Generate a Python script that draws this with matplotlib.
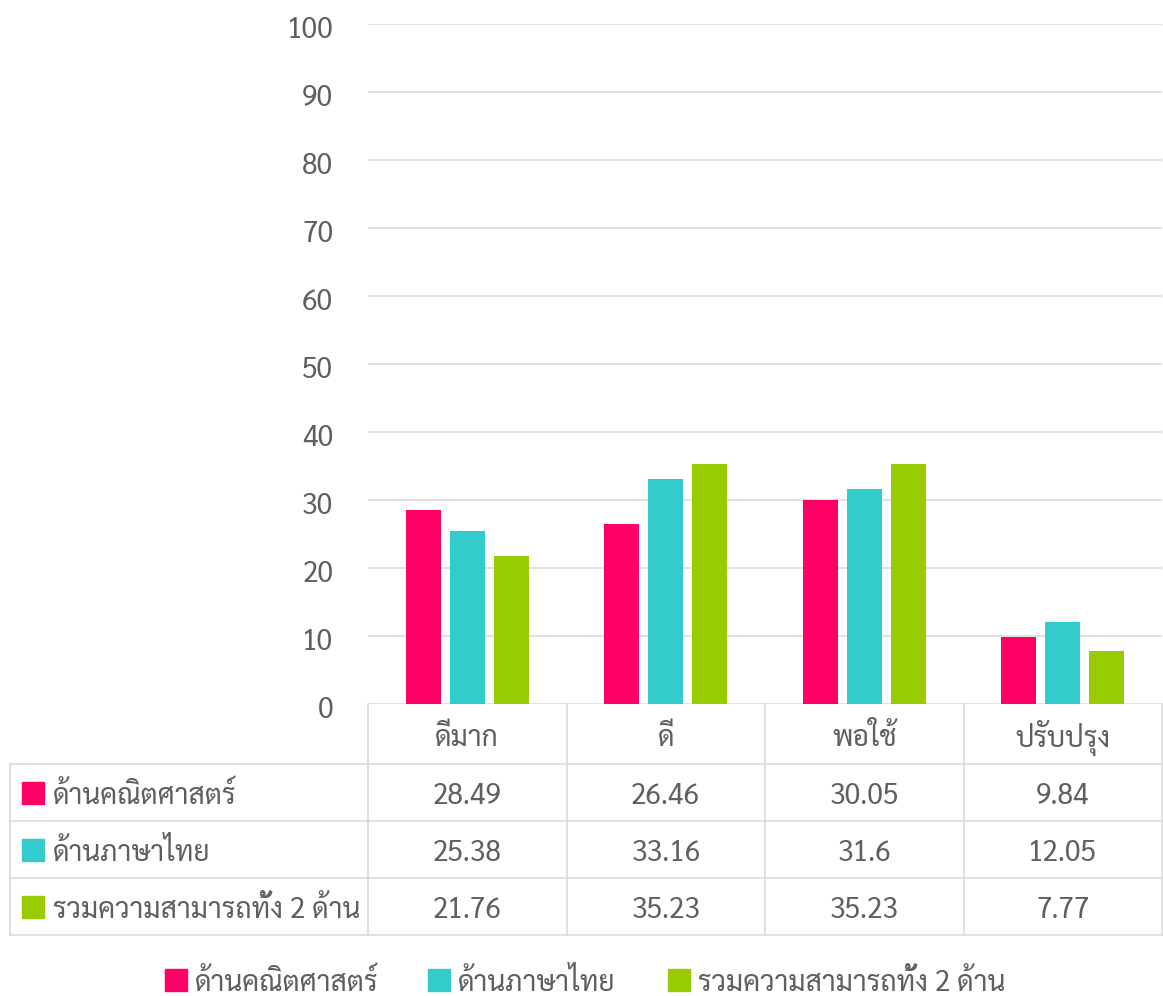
import matplotlib
matplotlib.use("Agg")
import matplotlib.pyplot as plt
from matplotlib.transforms import blended_transform_factory, ScaledTranslation
from matplotlib.lines import Line2D
from matplotlib.patches import Rectangle

categories = ["ดีมาก", "ดี", "พอใช้", "ปรับปรุง"]
series_names = ["ด้านคณิตศาสตร์", "ด้านภาษาไทย", "รวมความสามารถทั้ง 2 ด้าน"]
math_vals = [28.49, 26.46, 30.05, 9.84]
thai_vals = [25.38, 33.16, 31.6, 12.05]
both_vals = [21.76, 35.23, 35.23, 7.77]
series_vals = [math_vals, thai_vals, both_vals]
colors = ["#FF0066", "#33CCCC", "#99CC00"]

plt.rcParams["font.family"] = ["Sarabun", "DejaVu Sans"]
txt_color = "#5f5f5f"
grid_color = "#d9d9d9"
fs = 20.3
W, H = 1163, 996

fig = plt.figure(figsize=(W / 100, H / 100), dpi=100)
ax = fig.add_axes([368 / W, 1 - 704 / H, (1162 - 368) / W, (704 - 24) / H])

x = list(range(len(categories)))
bw = 0.176
step = 0.222
for i, vals in enumerate(series_vals):
    ax.bar([xi + (i - 1) * step for xi in x], vals, width=bw, color=colors[i], zorder=3)

ax.set_xlim(-0.5, len(categories) - 0.5)
ax.set_ylim(0, 100)
ax.set_yticks(range(0, 101, 10))
ax.set_xticks([])
ax.yaxis.grid(True, color=grid_color, linewidth=1.1)
ax.set_axisbelow(True)
for s in ax.spines.values():
    s.set_visible(False)
ax.tick_params(axis="y", length=0, pad=25, labelsize=fs, labelcolor=txt_color)
shift = ScaledTranslation(0, -3 / 100, fig.dpi_scale_trans)
for lab in ax.get_yticklabels():
    lab.set_transform(lab.get_transform() + shift)

# data table under the axis
bt = blended_transform_factory(ax.transData, fig.transFigure)
fy = lambda py: 1 - py / H
fx = lambda px: px / W
row_lines = [764, 821, 878, 935]
lw = 1.1

for py in row_lines:
    fig.add_artist(Line2D([fx(10), fx(1162)], [fy(py), fy(py)], color=grid_color, lw=lw))
for b in range(len(categories) + 1):
    xb = b - 0.5
    fig.add_artist(Line2D([xb, xb], [fy(704), fy(935)], color=grid_color, lw=lw, transform=bt))
fig.add_artist(Line2D([fx(10), fx(10)], [fy(764), fy(935)], color=grid_color, lw=lw))

# header
for xi, c in zip(x, categories):
    fig.text(xi, fy(738), c, transform=bt, ha="center", va="center", fontsize=fs, color=txt_color)

# rows
row_centers = [792.5, 849.5, 906.5]
for i, (name, vals) in enumerate(zip(series_names, series_vals)):
    yc = row_centers[i]
    fig.add_artist(Rectangle((fx(22), fy(yc + 11)), 22 / W, 22 / H, color=colors[i], transform=fig.transFigure))
    fig.text(fx(53), fy(yc + 4), name, ha="left", va="center", fontsize=fs, color=txt_color)
    for xi, v in zip(x, vals):
        fig.text(xi, fy(yc + 4), f"{v:g}", transform=bt, ha="center", va="center", fontsize=fs, color=txt_color)

# legend
leg_sq = [165, 428, 668]
for i, name in enumerate(series_names):
    fig.add_artist(Rectangle((fx(leg_sq[i]), fy(980 + 11)), 22 / W, 22 / H, color=colors[i], transform=fig.transFigure))
    fig.text(fx(leg_sq[i] + 30), fy(983), name, ha="left", va="center", fontsize=fs, color=txt_color)

fig.savefig("out.png", dpi=100)
